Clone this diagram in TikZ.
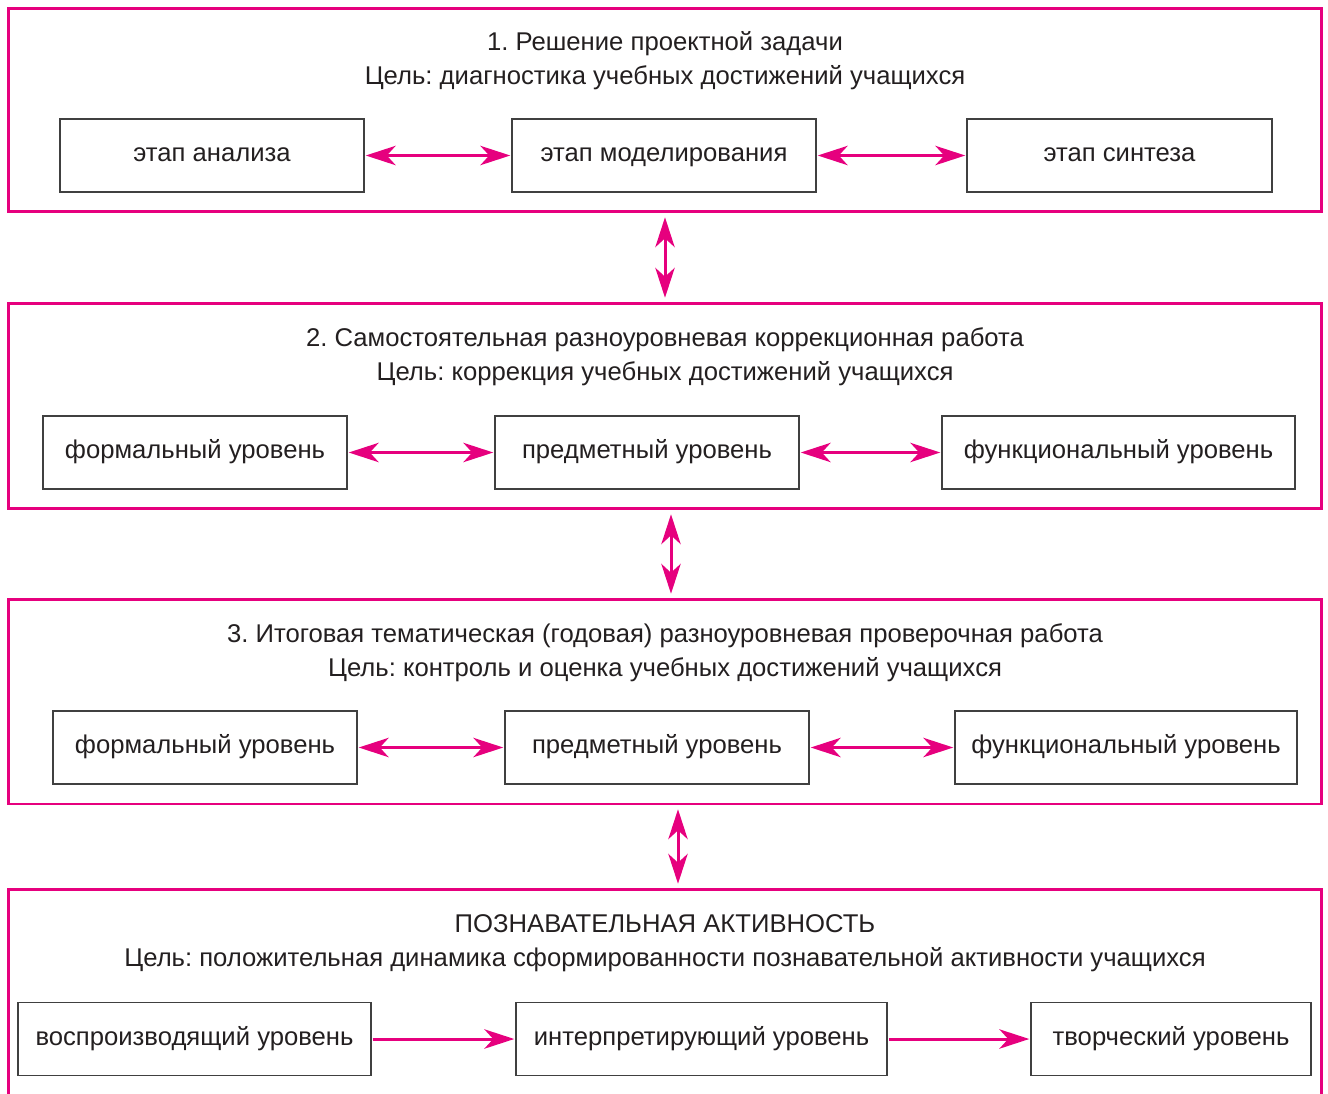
\documentclass[tikz,border=0pt]{standalone}
\usepackage{fontspec}
\setmainfont{Liberation Sans}
\usetikzlibrary{arrows.meta}
\definecolor{rose}{HTML}{E6007E}
\definecolor{ink}{HTML}{231F20}
\frenchspacing

\begin{document}
\begin{tikzpicture}[x=0.02cm,y=-0.02cm,<->,>={Stealth[length=17pt,width=11pt,inset=5pt]},
        shorten >=1pt,shorten <=1pt,
        frame/.style={draw=rose,line width=1.7pt,minimum width=26.28cm,inner sep=0pt,outer sep=0pt},
        stage/.style={draw=black!75,line width=0.8pt,minimum height=1.46cm,inner sep=0pt,outer sep=0pt,
          text=ink,font=\fontsize{14.6}{19.3}\selectfont,text height=9.5pt,text depth=2.5pt},
        head/.style={align=center,text=ink,font=\fontsize{14.6}{19.3}\selectfont},
        link/.style={draw=rose,line width=1.7pt},
        vlink/.style={link,shorten >=3pt,shorten <=3pt}]

  \useasboundingbox (0,0) rectangle (1328,1093);

  % frames
  \node[frame,minimum height=4.08cm] (p_1) at (665,110) {};
  \node[frame,minimum height=4.12cm] (p_2) at (665,406) {};
  \node[frame,minimum height=4.10cm] (p_3) at (665,701.5) {};
  \node[frame,minimum height=4.62cm] (p_4) at (665,1004.5) {};

  \node[head] (h_1) at (665,61) {1. Решение проектной задачи\\Цель: диагностика учебных достижений учащихся};
  \node[head] (h_2) at (665,357) {2. Самостоятельная разноуровневая коррекционная работа\\Цель: коррекция учебных достижений учащихся};
  \node[head] (h_3) at (665,653) {3. Итоговая тематическая (годовая) разноуровневая проверочная работа\\Цель: контроль и оценка учебных достижений учащихся};
  \node[head] (h_4) at (665,943.5) {ПОЗНАВАТЕЛЬНАЯ АКТИВНОСТЬ\\Цель: положительная динамика сформированности познавательной активности учащихся};

  % stages
  \node[stage,minimum width=6.08cm] (b_11) at (212,155.5) {этап анализа};
  \node[stage,minimum width=6.08cm] (b_12) at (664,155.5) {этап моделирования};
  \node[stage,minimum width=6.10cm] (b_13) at (1119.5,155.5) {этап синтеза};

  \node[stage,minimum width=6.08cm] (b_21) at (195,452.5) {формальный уровень};
  \node[stage,minimum width=6.08cm] (b_22) at (647,452.5) {предметный уровень};
  \node[stage,minimum width=7.06cm] (b_23) at (1118.5,452.5) {функциональный уровень};

  \node[stage,minimum width=6.08cm] (b_31) at (205,747.5) {формальный уровень};
  \node[stage,minimum width=6.08cm] (b_32) at (657,747.5) {предметный уровень};
  \node[stage,minimum width=6.84cm] (b_33) at (1126,747.5) {функциональный уровень};

  \node[stage,minimum width=7.06cm] (b_41) at (194.5,1039) {воспроизводящий уровень};
  \node[stage,minimum width=7.42cm] (b_42) at (701.5,1039) {интерпретирующий уровень};
  \node[stage,minimum width=5.60cm] (b_43) at (1171,1039) {творческий уровень};

  \path (b_11) edge [link] (b_12)
        (b_12) edge [link] (b_13)
        (b_21) edge [link] (b_22)
        (b_22) edge [link] (b_23)
        (b_31) edge [link] (b_32)
        (b_32) edge [link] (b_33)
        (b_41) edge [link,->] (b_42)
        (b_42) edge [link,->] (b_43);

  \path (p_1) edge [vlink] (p_2)
        ([xshift=0.12cm]p_2.south) edge [vlink] ([xshift=0.12cm]p_3.north)
        ([xshift=0.26cm]p_3.south) edge [vlink] ([xshift=0.26cm]p_4.north);

\end{tikzpicture}
\end{document}
